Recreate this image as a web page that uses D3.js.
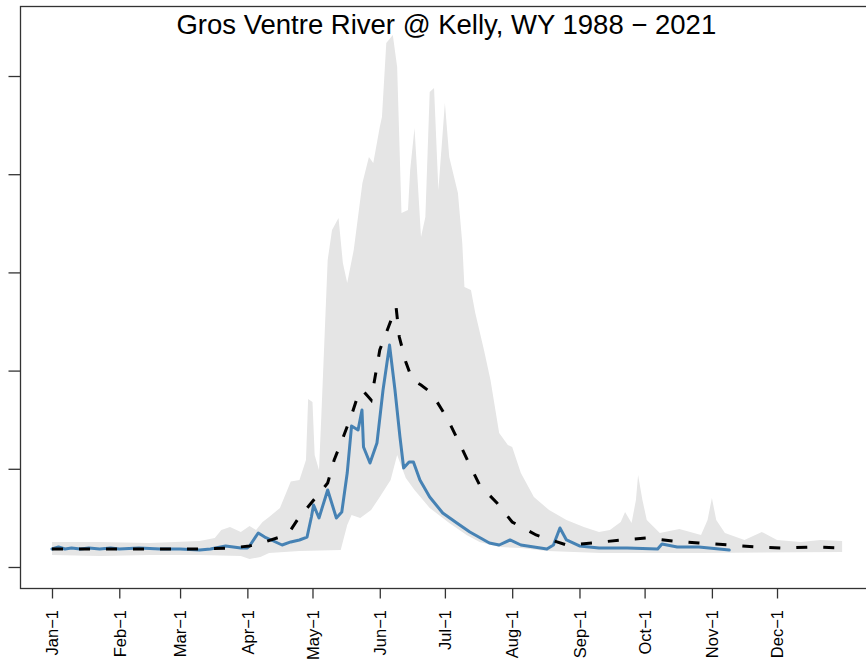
<!DOCTYPE html>
<html>
<head>
<meta charset="utf-8">
<script src="https://cdn.jsdelivr.net/npm/d3@7"></script>
<style>
  html, body { margin: 0; padding: 0; background: #fff; }
  svg { display: block; }
</style>
</head>
<body>
<svg id="chart" width="866" height="662"></svg>
<script>
// ---- Data (day of year, 0 = Jan 1; flow in cfs) ----
const title = "Gros Ventre River @ Kelly, WY 1988 \u2212 2021";
const monthLabels = ["Jan\u22121","Feb\u22121","Mar\u22121","Apr\u22121","May\u22121","Jun\u22121","Jul\u22121","Aug\u22121","Sep\u22121","Oct\u22121","Nov\u22121","Dec\u22121"];
const monthDays = [0,31,59,90,120,151,181,212,243,273,304,334];
const yTicks = [0,1000,2000,3000,4000,5000];

// Period-of-record maximum (upper edge of grey band)
const maxDays = [0,22,45,68,75,78,82,87,91,94,97,100,105,110,114,117,118,120,121,123,124,127,129,132,134,136,139,143,146,148,151,152,154,157,159,161,164,165,167,170,172,174,176,178,181,183,187,189,190,193,195,199,202,206,210,212,216,222,229,237,245,252,257,262,264,267,269,270,272,274,280,289,299,302,304,306,310,319,327,334,345,354,364];
const maxFlow = [255,255,244,265,295,377,407,356,418,377,458,509,600,870,886,1090,1711,1680,1140,988,1497,3126,3432,3554,3096,2892,3228,3910,4175,4114,4481,4582,5336,5417,5092,3605,3635,4043,4470,3360,3564,4837,4878,3839,4725,4175,3808,3299,2851,2821,2586,2210,1904,1365,1242,1222,957,713,580,479,407,356,377,458,560,448,682,937,682,479,346,387,326,479,703,479,346,275,356,275,255,275,265];

// Period-of-record minimum (lower edge of grey band)
const minDays = [0,22,45,68,87,91,96,100,114,133,136,138,142,147,151,156,159,163,167,174,183,191,197,206,216,228,253,299,364];
const minFlow = [122,112,122,122,112,81,102,143,163,173,428,530,499,580,713,886,1141,906,784,601,448,326,255,204,193,163,143,143,153];

// Median
const medDays = [0,22,45,68,82,91,98,105,110,113,127,130,134,138,141,143,145,147,151,155,158.5,160,163,166,170,173,176,182,187,192,197,205,212,223,237,249,262,274,286,298,312,325,337,350,364];
const medFlow = [183,183,183,183,193,214,255,305,377,478,855,1090,1314,1548,1751,1802,1751,1701,2210,2444,2648,2342,2088,1904,1853,1802,1731,1517,1293,1059,835,652,458,326,224,244,275,295,265,244,224,204,193,204,193];

// Current year
const curDays = [0,3,6,9,13,17,22,27,31,40,50,59,68,73,80,87,90,91,95,98,100,106,110,114,117.5,119.5,120.5,123,127,131,133.5,136,138,141,142.8,143.5,146.5,149.7,152.5,155.5,158,160.3,162,164.5,166.5,169.5,174,180,186.5,192.5,201.5,206,211,216,228,231,234,237,243,252,265,279,281,288,298,312];
const curFlow = [183,204,183,193,183,193,183,193,183,193,183,183,173,183,214,193,193,214,346,305,285,224,255,275,305,509,631,499,784,499,560,957,1436,1395,1599,1222,1059,1263,1802,2260,1802,1324,1008,1069,1069,886,713,550,448,356,244,224,275,224,183,224,397,275,214,193,193,183,234,204,204,173];

// ---- Chart ----
const svg = d3.select("#chart");
const plot = { left: 20, right: 874.7, top: 6, bottom: 588 };

const x = d3.scaleLinear().domain([-14.74, 379]).range([plot.left, plot.right]);
const y = d3.scaleLinear().domain([-214, 5713]).range([plot.bottom, plot.top]);

const zip = (a, b) => a.map((d, i) => [d, b[i]]);
const line = d3.line().x(d => x(d[0])).y(d => y(d[1]));

// grey band: max edge left->right, min edge right->left
const upper = zip(maxDays, maxFlow);
const lower = zip(minDays, minFlow).reverse();
const bandPath = line(upper) + "L" + line(lower).slice(1) + "Z";

svg.append("path")
  .attr("d", bandPath)
  .attr("fill", "#e5e5e5")
  .attr("stroke", "none");

svg.append("path")
  .datum(zip(curDays, curFlow))
  .attr("d", line)
  .attr("fill", "none")
  .attr("stroke", "#4682b4")
  .attr("stroke-width", 3)
  .attr("stroke-linejoin", "round")
  .attr("stroke-linecap", "round");

svg.append("path")
  .datum(zip(medDays, medFlow))
  .attr("d", line)
  .attr("fill", "none")
  .attr("stroke", "#000")
  .attr("stroke-width", 3)
  .attr("stroke-dasharray", "11,16");

// box
svg.append("rect")
  .attr("x", plot.left + 0.5).attr("y", plot.top + 0.5)
  .attr("width", plot.right - plot.left).attr("height", plot.bottom - plot.top)
  .attr("fill", "none").attr("stroke", "#333").attr("stroke-width", 1.3);

// y axis ticks (labels off-canvas in reference)
const yAxis = svg.append("g")
  .attr("transform", `translate(${plot.left + 0.5},0)`)
  .call(d3.axisLeft(y).tickValues(yTicks).tickSize(12).tickSizeOuter(0).tickFormat(() => ""));
yAxis.select(".domain").remove();
yAxis.selectAll(".tick line").attr("stroke", "#333").attr("stroke-width", 1.3);

// x axis
const xAxis = svg.append("g")
  .attr("transform", `translate(0,${plot.bottom + 0.5})`)
  .call(d3.axisBottom(x).tickValues(monthDays).tickSize(10).tickSizeOuter(0)
    .tickFormat((d, i) => monthLabels[i]));
xAxis.select(".domain").remove();
xAxis.selectAll(".tick line").attr("stroke", "#333").attr("stroke-width", 1.3);
xAxis.selectAll(".tick text")
  .attr("font-family", "Liberation Sans, Arial, sans-serif")
  .attr("font-size", 16.5)
  .attr("fill", "#000")
  .attr("text-anchor", "end")
  .attr("transform", "rotate(-90)")
  .attr("x", -21.5)
  .attr("y", 0)
  .attr("dy", "0.35em");

// title
svg.append("text")
  .attr("x", (plot.left + plot.right) / 2 - 1)
  .attr("y", 34)
  .attr("text-anchor", "middle")
  .attr("font-family", "Liberation Sans, Arial, sans-serif")
  .attr("font-size", 27.5)
  .attr("fill", "#000")
  .text(title);
</script>
</body>
</html>
